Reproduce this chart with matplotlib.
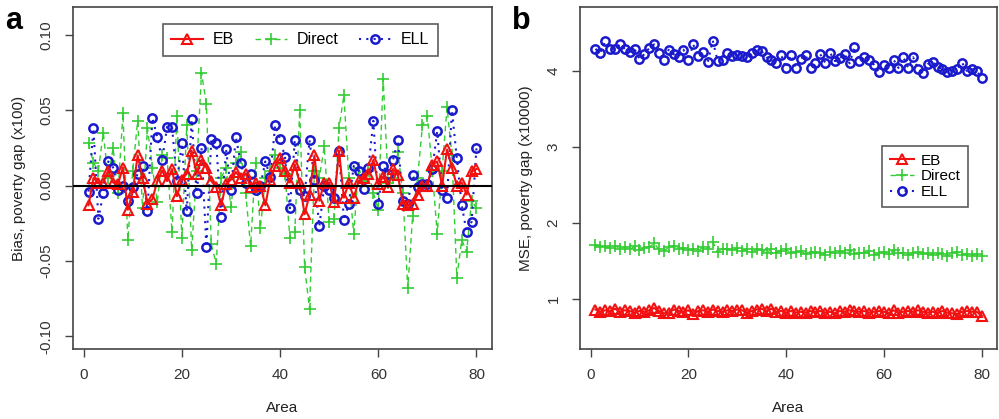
import numpy as np
import matplotlib
matplotlib.use('Agg')
import matplotlib.pyplot as plt

plt.rcParams['font.family'] = ['Liberation Sans', 'DejaVu Sans']

# area index
area = np.arange(1, 81)

# panel a: bias of poverty gap (x100)
bias_eb = [-0.013, 0.005, 0.002, 0.002, 0.010, 0.002, 0.001, 0.012, -0.016, -0.004,
           0.020, 0.005, -0.012, -0.009, 0.003, 0.010, 0.003, 0.011, -0.007, 0.004,
           0.008, 0.023, 0.008, 0.017, 0.012, 0.003, -0.001, -0.013, 0.001, 0.004,
           0.009, 0.005, 0.008, -0.001, 0.002, 0.000, -0.013, 0.004, 0.013, 0.018,
           0.010, 0.002, 0.014, 0.002, -0.019, -0.006, 0.020, -0.010, 0.002, 0.002,
           -0.011, 0.023, -0.008, 0.002, -0.008, 0.003, 0.005, 0.008, 0.017, 0.001,
           0.006, -0.001, 0.011, 0.007, -0.012, -0.013, -0.012, -0.006, 0.000, 0.000,
           0.014, 0.016, 0.000, 0.024, 0.012, 0.000, 0.002, -0.006, 0.010, 0.011]
bias_direct = [0.028, 0.015, 0.010, 0.035, 0.005, 0.025, -0.005, 0.048, -0.036, 0.010,
               0.043, -0.015, 0.038, 0.012, -0.011, 0.020, 0.018, -0.031, 0.046, -0.035,
               0.040, -0.043, 0.010, 0.075, 0.054, -0.039, -0.052, 0.005, 0.012, -0.014,
               0.015, 0.022, -0.005, -0.040, 0.015, -0.028, 0.005, 0.010, 0.020, 0.012,
               0.008, -0.035, -0.031, 0.050, -0.054, -0.082, 0.010, 0.005, 0.026, -0.024,
               -0.022, 0.038, 0.060, 0.005, -0.032, 0.012, 0.003, 0.010, -0.005, -0.016,
               0.071, 0.002, 0.005, 0.022, -0.005, -0.068, -0.020, 0.005, 0.040, 0.046,
               0.010, -0.032, 0.010, 0.052, 0.020, -0.061, -0.036, -0.044, -0.010, -0.015]
bias_ell = [-0.004, 0.038, -0.022, -0.005, 0.016, 0.012, -0.003, 0.000, -0.010, -0.001,
            0.008, 0.013, -0.017, 0.045, 0.032, 0.017, 0.039, 0.039, 0.003, 0.028,
            -0.017, 0.044, -0.005, 0.025, -0.041, 0.031, 0.028, -0.021, 0.024, -0.003,
            0.032, 0.015, 0.002, 0.008, -0.003, 0.000, 0.016, 0.006, 0.040, 0.031,
            0.019, -0.015, 0.030, -0.003, -0.007, 0.030, 0.004, -0.027, 0.000, -0.003,
            -0.008, 0.023, -0.023, -0.012, 0.013, 0.010, -0.002, 0.012, 0.043, -0.012,
            0.013, 0.008, 0.017, 0.030, -0.010, -0.012, 0.007, -0.001, 0.001, 0.001,
            0.011, 0.036, -0.003, -0.008, 0.050, 0.018, -0.013, -0.031, -0.024, 0.025]

# panel b: MSE of poverty gap (x10000)
mse_eb = [0.86, 0.83, 0.85, 0.84, 0.87, 0.83, 0.85, 0.84, 0.82, 0.84,
          0.83, 0.85, 0.88, 0.84, 0.81, 0.82, 0.86, 0.84, 0.83, 0.85,
          0.80, 0.84, 0.85, 0.83, 0.86, 0.84, 0.83, 0.85, 0.84, 0.86,
          0.85, 0.82, 0.84, 0.86, 0.87, 0.84, 0.87, 0.83, 0.84, 0.82,
          0.84, 0.82, 0.83, 0.82, 0.84, 0.83, 0.84, 0.82, 0.83, 0.81,
          0.84, 0.83, 0.85, 0.84, 0.83, 0.84, 0.82, 0.83, 0.84, 0.83,
          0.81, 0.85, 0.82, 0.83, 0.84, 0.83, 0.85, 0.83, 0.82, 0.83,
          0.82, 0.84, 0.82, 0.81, 0.80, 0.83, 0.84, 0.83, 0.83, 0.78]
mse_direct = [1.71, 1.68, 1.69, 1.67, 1.70, 1.66, 1.68, 1.65, 1.69, 1.64,
              1.67, 1.68, 1.73, 1.65, 1.63, 1.68, 1.70, 1.66, 1.67, 1.64,
              1.66, 1.63, 1.68, 1.65, 1.75, 1.62, 1.65, 1.66, 1.64, 1.67,
              1.63, 1.66, 1.62, 1.65, 1.64, 1.60, 1.66, 1.61, 1.63, 1.65,
              1.60, 1.62, 1.63, 1.59, 1.61, 1.62, 1.60, 1.58, 1.62, 1.60,
              1.63, 1.61, 1.64, 1.59, 1.61, 1.60, 1.63, 1.58, 1.60, 1.62,
              1.59, 1.64, 1.60, 1.61, 1.58, 1.60, 1.62, 1.59, 1.60, 1.58,
              1.60, 1.59, 1.57, 1.60, 1.62, 1.58, 1.59, 1.57, 1.59, 1.57]
mse_ell = [4.29, 4.24, 4.39, 4.29, 4.29, 4.35, 4.29, 4.25, 4.29, 4.16,
           4.22, 4.30, 4.35, 4.23, 4.15, 4.28, 4.22, 4.19, 4.28, 4.14,
           4.35, 4.20, 4.25, 4.12, 4.40, 4.13, 4.14, 4.24, 4.20, 4.21,
           4.20, 4.18, 4.24, 4.27, 4.26, 4.18, 4.15, 4.11, 4.21, 4.04,
           4.21, 4.04, 4.16, 4.21, 4.04, 4.10, 4.22, 4.11, 4.24, 4.13,
           4.17, 4.22, 4.10, 4.32, 4.13, 4.18, 4.15, 4.08, 3.98, 4.08,
           4.04, 4.15, 4.04, 4.18, 4.04, 4.18, 4.03, 3.97, 4.09, 4.12,
           4.05, 4.03, 3.98, 4.00, 4.02, 4.11, 4.00, 4.03, 4.00, 3.91]

series_names = ['EB', 'Direct', 'ELL']

RED = '#f21010'
GREEN = '#33cc33'
BLUE = '#1a1acc'

fig = plt.figure(figsize=(9.99, 4.19), dpi=100)
ax1 = fig.add_axes([0.0731, 0.167, 0.4194, 0.816])
ax2 = fig.add_axes([0.5806, 0.167, 0.4174, 0.816])

def draw(ax, eb, direct, ell):
    ax.plot(area, direct, color=GREEN, ls=(0, (4, 3)), lw=1.0, marker='+',
            ms=8, mew=1.2, label=series_names[1], zorder=2)
    ax.plot(area, ell, color=BLUE, ls=(0, (1, 2.5)), lw=1.5, marker='o',
            ms=6, mew=1.8, mfc='none', label=series_names[2], zorder=3)
    ax.plot(area, eb, color=RED, ls='-', lw=1.5, marker='^', ms=7,
            mew=1.5, mfc='none', label=series_names[0], zorder=4)

draw(ax1, bias_eb, bias_direct, bias_ell)
ax1.axhline(0, color='black', lw=1.5, zorder=5)
draw(ax2, mse_eb, mse_direct, mse_ell)

for ax in (ax1, ax2):
    ax.set_xlim(-2.16, 83.16)
    ax.set_xticks([0, 20, 40, 60, 80])
    for s in ax.spines.values():
        s.set_color('#444444')
        s.set_linewidth(1.2)
    ax.tick_params(direction='out', length=6, width=1, colors='#444444',
                   labelcolor='#333333', labelsize=11, pad=8)
    ax.set_xlabel('Area', fontsize=11, color='#222222', labelpad=13)

ax1.set_ylim(-0.1084, 0.1184)
ax1.set_yticks([-0.10, -0.05, 0.00, 0.05, 0.10])
ax1.set_yticklabels(['-0.10', '-0.05', '0.00', '0.05', '0.10'], rotation=90, va='center')
ax1.set_ylabel('Bias, poverty gap (x100)', fontsize=11, color='#222222', labelpad=10)

ax2.set_ylim(0.34, 4.84)
ax2.set_yticks([1, 2, 3, 4])
ax2.set_yticklabels(['1', '2', '3', '4'], rotation=90, va='center')
ax2.set_ylabel('MSE, poverty gap (x10000)', fontsize=11, color='#222222', labelpad=10)

def legend(ax, **kw):
    h, l = ax.get_legend_handles_labels()
    order = [2, 0, 1]
    lg = ax.legend([h[i] for i in order], [l[i] for i in order], fancybox=False,
                   edgecolor='#333333', **kw)
    lg.get_frame().set_linewidth(1.2)
    return lg

legend(ax1, loc='upper center', bbox_to_anchor=(0.542, 0.975), ncol=3,
       fontsize=11.5, handlelength=2.0, columnspacing=1.3, handletextpad=0.6,
       borderpad=0.55)
legend(ax2, loc='center right', bbox_to_anchor=(0.93, 0.505), ncol=1,
       fontsize=11, handlelength=1.6, labelspacing=0.1, handletextpad=0.4,
       borderaxespad=0, borderpad=0.5)

fig.text(0.005, 0.985, 'a', fontsize=22, fontweight='bold', va='top')
fig.text(0.513, 0.985, 'b', fontsize=22, fontweight='bold', va='top')

fig.savefig('out.png', dpi=100)
